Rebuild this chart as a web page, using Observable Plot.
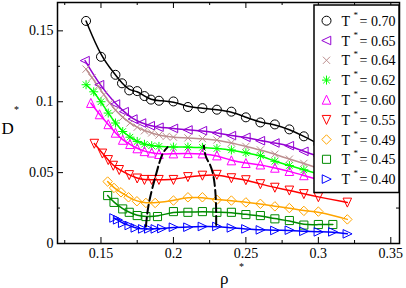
<!DOCTYPE html>
<html><head><meta charset="utf-8">
<script src="https://cdn.jsdelivr.net/npm/d3@7"></script>
<script src="https://cdn.jsdelivr.net/npm/@observablehq/plot@0.6"></script>
<style>body{margin:0;background:#fff}#chart{width:406px;height:288px}</style>
</head><body><div id="chart"></div>
<script>
const temps = ["0.70","0.65","0.64","0.62","0.60","0.55","0.49","0.45","0.40"];
const colors = ["#000000","#9400d3","#bc8f8f","#00ff00","#ff00ff","#ff0000","#ffa500","#008b00","#0000ff"];

const rho70 = [0.1397,0.15,0.16,0.1645,0.1695,0.175,0.18,0.1845,0.19,0.20,0.21,0.22,0.23,0.24,0.25,0.26,0.27,0.28,0.29,0.30];
const d70   = [0.157,0.1317,0.119,0.113,0.108,0.1075,0.104,0.1015,0.1007,0.1002,0.0963,0.0955,0.0944,0.093,0.089,0.0854,0.084,0.0805,0.0756,0.0703];
const rho65 = [0.139,0.149,0.16,0.166,0.172,0.178,0.184,0.19,0.20,0.21,0.22,0.23,0.24,0.25,0.26,0.27,0.28,0.29,0.30];
const d65   = [0.129,0.112,0.0984,0.093,0.0878,0.085,0.0831,0.082,0.0812,0.0801,0.0796,0.078,0.0761,0.0749,0.0725,0.0709,0.069,0.065,0.0615];
const rho64 = [0.1397,0.1438,0.148,0.152,0.156,0.16,0.165,0.17,0.175,0.18,0.185,0.19,0.195,0.20,0.21,0.22,0.23,0.24,0.25,0.26,0.27,0.28,0.29,0.30];
const d64   = [0.123,0.117,0.111,0.105,0.099,0.094,0.089,0.085,0.082,0.0795,0.078,0.0765,0.0755,0.075,0.0745,0.074,0.073,0.071,0.0685,0.066,0.063,0.0595,0.0565,0.053];
const rho62 = [0.1397,0.145,0.15,0.155,0.16,0.165,0.17,0.175,0.18,0.185,0.19,0.20,0.21,0.22,0.23,0.24,0.25,0.26,0.27,0.28,0.29,0.30];
const d62   = [0.112,0.107,0.100,0.092,0.085,0.079,0.075,0.072,0.070,0.069,0.0685,0.068,0.068,0.0678,0.067,0.066,0.064,0.062,0.058,0.055,0.052,0.049];
const rho60 = [0.143,0.149,0.155,0.16,0.165,0.17,0.175,0.18,0.185,0.19,0.20,0.21,0.22,0.23,0.24,0.25,0.26,0.27,0.28,0.29,0.30];
const d60   = [0.099,0.091,0.084,0.078,0.073,0.070,0.067,0.065,0.064,0.063,0.0634,0.0636,0.0634,0.062,0.0585,0.0566,0.0556,0.0533,0.051,0.048,0.045];
const rho55 = [0.1454,0.151,0.155,0.1585,0.1626,0.1695,0.175,0.18,0.185,0.19,0.20,0.21,0.22,0.23,0.24,0.25,0.26,0.27,0.28,0.29,0.30,0.32];
const d55   = [0.0705,0.0636,0.059,0.055,0.052,0.0484,0.046,0.045,0.045,0.045,0.045,0.047,0.048,0.0486,0.0462,0.0448,0.042,0.0395,0.0375,0.035,0.0328,0.029];
const rho49 = [0.1546,0.159,0.1638,0.169,0.1748,0.181,0.1874,0.20,0.21,0.22,0.23,0.24,0.25,0.26,0.27,0.28,0.29,0.30,0.32];
const d49   = [0.0437,0.0392,0.0361,0.0326,0.0298,0.0286,0.0286,0.0303,0.0326,0.0326,0.0308,0.0303,0.029,0.028,0.0262,0.025,0.023,0.0225,0.017];
const rho45 = [0.1546,0.159,0.165,0.1695,0.175,0.181,0.189,0.20,0.21,0.22,0.23,0.24,0.25,0.26,0.27,0.28,0.29,0.30,0.31];
const d45   = [0.0338,0.029,0.0244,0.022,0.0197,0.019,0.019,0.0225,0.022,0.0225,0.022,0.022,0.0204,0.0197,0.0174,0.0162,0.013,0.0134,0.0134];
const rho40 = [0.159,0.1615,0.165,0.1695,0.1737,0.1788,0.183,0.1875,0.192,0.20,0.21,0.22,0.23,0.24,0.25,0.26,0.27,0.28,0.29,0.30,0.31,0.32];
const d40   = [0.018,0.0167,0.0143,0.0127,0.011,0.0103,0.0103,0.0103,0.0105,0.0115,0.0115,0.012,0.012,0.011,0.0103,0.0096,0.0092,0.0094,0.0086,0.0082,0.0082,0.0068];

const dashLeftRho  = [0.181,0.1832,0.1878,0.192,0.196];
const dashLeftD    = [0.012,0.029,0.048,0.062,0.068];
const dashRightRho = [0.2295,0.2293,0.228,0.2255,0.2225,0.221];
const dashRightD   = [0.013,0.030,0.045,0.055,0.061,0.069];

const xTicks = [0.15,0.2,0.25,0.3,0.35];
const xMinor = [0.125,0.175,0.225,0.275,0.325];
const yTicks = [0,0.05,0.1,0.15];
const yMinor = [0.025,0.075,0.125];

function poly(pts){return {draw(ctx,size){const r=Math.sqrt(size/Math.PI);ctx.moveTo(pts[0][0]*r,pts[0][1]*r);for(let i=1;i<pts.length;i++)ctx.lineTo(pts[i][0]*r,pts[i][1]*r);ctx.closePath();}};}
const symCircle = {draw(ctx,size){const r=Math.sqrt(size/Math.PI);ctx.moveTo(r,0);ctx.arc(0,0,r,0,2*Math.PI);}};
const symLeft = poly([[-1.05,0],[0.95,-0.95],[0.95,0.95]]);
const symRight = poly([[1.05,0],[-0.95,-0.95],[-0.95,0.95]]);
const symUp = poly([[0,-1.05],[-0.95,0.95],[0.95,0.95]]);
const symDown = poly([[0,1.05],[-0.95,-0.95],[0.95,-0.95]]);
const symDiamond = poly([[0,-1.05],[1.05,0],[0,1.05],[-1.05,0]]);
const symSquare = poly([[-0.9,-0.9],[0.9,-0.9],[0.9,0.9],[-0.9,0.9]]);
const symTimes = {draw(ctx,size){const a=Math.sqrt(size/Math.PI)*0.8;ctx.moveTo(-a,-a);ctx.lineTo(a,a);ctx.moveTo(a,-a);ctx.lineTo(-a,a);}};
const symStar = {draw(ctx,size){const r=Math.sqrt(size/Math.PI);const a=r*0.72;ctx.moveTo(-r,0);ctx.lineTo(r,0);ctx.moveTo(0,-r);ctx.lineTo(0,r);ctx.moveTo(-a,-a);ctx.lineTo(a,a);ctx.moveTo(a,-a);ctx.lineTo(-a,a);}};
const symbols = [symCircle,symLeft,symTimes,symStar,symUp,symDown,symDiamond,symSquare,symRight];

const xs = [rho70,rho65,rho64,rho62,rho60,rho55,rho49,rho45,rho40];
const ys = [d70,d65,d64,d62,d60,d55,d49,d45,d40];
const series = temps.map((t,i)=>({t, color:colors[i], sym:symbols[i], data: xs[i].map((x,j)=>({x, y: ys[i][j]}))}));

const W=406,H=288,mL=57,mR=7,mT=2,mB=45;
const innerW=W-mL-mR, innerH=H-mT-mB;
const fmt = d => d===0 ? "0" : String(+d.toFixed(3));
const ff = "'Liberation Serif', 'Times New Roman', serif";

const marks = [];
for (const s of series) marks.push(Plot.line(s.data,{x:"x",y:"y",stroke:s.color,strokeWidth:1.5,curve:"basis"}));
for (const s of series) marks.push(Plot.dot(s.data,{x:"x",y:"y",stroke:s.color,fill:"none",strokeWidth:1,r:4.5,symbol:()=>s.sym}));
marks.push(Plot.line(dashLeftRho.map((x,i)=>({x,y:dashLeftD[i]})),{x:"x",y:"y",stroke:"#000",strokeWidth:2,strokeDasharray:"9,4",curve:"natural"}));
marks.push(Plot.line(dashRightRho.map((x,i)=>({x,y:dashRightD[i]})),{x:"x",y:"y",stroke:"#000",strokeWidth:2,strokeDasharray:"9,4",curve:"natural"}));
const tk = (len)=>({bottom:{insetTop:innerH-len},top:{insetBottom:innerH-len},left:{insetRight:innerW-len},right:{insetLeft:innerW-len}});
for (const [arr,len] of [[xTicks,6],[xMinor,3]]) {
  marks.push(Plot.ruleX(arr,{x:d=>d,stroke:"#000",strokeWidth:1,...tk(len).bottom}));
  marks.push(Plot.ruleX(arr,{x:d=>d,stroke:"#000",strokeWidth:1,...tk(len).top}));
}
for (const [arr,len] of [[yTicks,6],[yMinor,3]]) {
  marks.push(Plot.ruleY(arr,{y:d=>d,stroke:"#000",strokeWidth:1,...tk(len).left}));
  marks.push(Plot.ruleY(arr,{y:d=>d,stroke:"#000",strokeWidth:1,...tk(len).right}));
}
marks.push(Plot.axisX(xTicks,{tickSize:0,tickPadding:5,tickFormat:fmt,label:null,fontSize:14,fontFamily:ff}));
marks.push(Plot.axisY(yTicks,{tickSize:0,tickPadding:4,tickFormat:fmt,label:null,fontSize:14,fontFamily:ff}));
marks.push(Plot.frame({stroke:"#000",strokeWidth:1.5}));

const plot = Plot.plot({
  width:W,height:H,marginLeft:mL,marginRight:mR,marginTop:mT,marginBottom:mB,
  x:{domain:[0.12,0.356]}, y:{domain:[0,0.17]},
  style:{fontFamily:ff,fontSize:"14px",background:"#fff",color:"#000",overflow:"visible"},
  marks
});
document.getElementById("chart").appendChild(plot);

const svg = d3.select(plot);
const txt = (sel)=>sel.append("text").attr("font-family",ff).attr("fill","#000").attr("text-anchor","start");
const yl = txt(svg);
yl.append("tspan").attr("x",1.5).attr("y",133.5).attr("font-size",17).text("D");
yl.append("tspan").attr("x",14).attr("y",113).attr("font-size",10).text("*");
const xl = txt(svg);
xl.append("tspan").attr("x",220).attr("y",284).attr("font-size",17).text("ρ");
xl.append("tspan").attr("x",239).attr("y",270).attr("font-size",10).text("*");

const lg = svg.append("g");
lg.append("rect").attr("x",314).attr("y",5).attr("width",85).attr("height",187.5).attr("fill","#fff").attr("stroke","#000").attr("stroke-width",1.5);
series.forEach((s,i)=>{
  const cy = 20.7 + i*19.8;
  lg.append("path").attr("d",d3.symbol(s.sym, Math.PI*4.5*4.5)()).attr("transform",`translate(326.5,${cy})`).attr("fill","none").attr("stroke",s.color).attr("stroke-width",1);
  const t = txt(lg).attr("font-size",14);
  t.append("tspan").attr("x",341.5).attr("y",cy+5).text("T");
  t.append("tspan").attr("x",353.5).attr("y",cy-3).attr("font-size",9).text("*");
  t.append("tspan").attr("x",359.5).attr("y",cy+5).text("= "+s.t);
});
</script>
</body></html>
